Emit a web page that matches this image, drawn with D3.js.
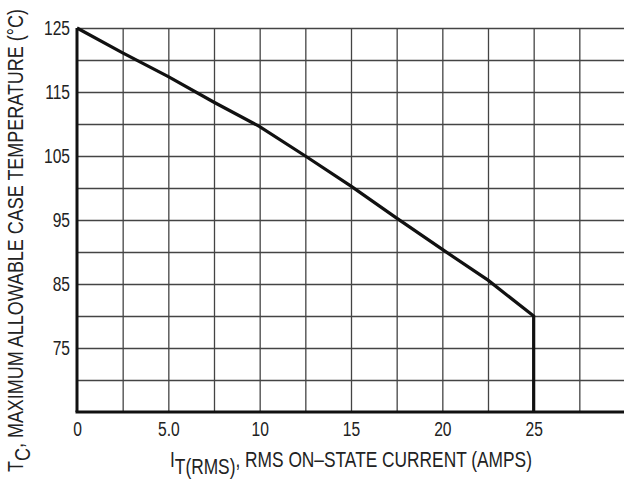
<!DOCTYPE html>
<html>
<head>
<meta charset="utf-8">
<script src="https://cdn.jsdelivr.net/npm/d3@7"></script>
<style>
  body { margin: 0; background: #fff; }
  svg text { font-family: "Liberation Sans", Arial, sans-serif; fill: #222; }
  .grid line { stroke: #444; stroke-width: 1.3; }
  .grid path { display: none; }
</style>
</head>
<body>
<div id="chart"></div>
<script>
// derating curve: case temperature vs rms current
let current = [0, 2.5, 5, 7.5, 10, 12.5, 15, 17.5, 20, 22.5, 25, 25];
let caseTemp = [125, 121.1, 117.4, 113.4, 109.6, 105.0, 100.3, 95.3, 90.4, 85.6, 80, 65];

let xTicks = [0, 5, 10, 15, 20, 25];
let xTickLabels = ["0", "5.0", "10", "15", "20", "25"];
let yTicks = [75, 85, 95, 105, 115, 125];

let margin = {top: 28, right: -1, bottom: 69, left: 77},
    width = 624 - margin.left - margin.right,
    height = 481 - margin.top - margin.bottom;

let root = d3.select("#chart").append("svg")
    .attr("width", 624)
    .attr("height", 481);

let svg = root.append("g")
    .attr("transform", "translate(" + margin.left + "," + margin.top + ")");

let x = d3.scaleLinear().domain([0, 30]).range([0, width]);
let y = d3.scaleLinear().domain([65, 125]).range([height, 0]);

// squeeze a text horizontally (the original uses a condensed face)
function condense(sel, k) {
    sel.each(function() {
        let w = this.getComputedTextLength();
        d3.select(this).attr("textLength", w * k).attr("lengthAdjust", "spacingAndGlyphs");
    });
}

// gridlines every 2.5 A and every 5 degrees
svg.append("g")
    .attr("class", "grid")
    .attr("transform", "translate(0," + height + ")")
    .call(d3.axisBottom(x)
        .tickValues(d3.range(2.5, 30.1, 2.5))
        .tickSize(-height)
        .tickFormat(""));

svg.append("g")
    .attr("class", "grid")
    .call(d3.axisLeft(y)
        .tickValues(d3.range(70, 125.1, 5))
        .tickSize(-width)
        .tickFormat(""));

// tick labels
let xAxis = svg.append("g")
    .attr("transform", "translate(0," + height + ")")
    .call(d3.axisBottom(x)
        .tickValues(xTicks)
        .tickSize(0)
        .tickPadding(10)
        .tickFormat(function(d, i) { return xTickLabels[i]; }));
xAxis.select(".domain").remove();
xAxis.attr("font-size", 20).attr("font-family", null);
xAxis.selectAll("text").attr("fill", "#222");
condense(xAxis.selectAll("text"), 0.78);

let yAxis = svg.append("g")
    .call(d3.axisLeft(y)
        .tickValues(yTicks)
        .tickSize(0)
        .tickPadding(7));
yAxis.select(".domain").remove();
yAxis.attr("font-size", 20).attr("font-family", null);
yAxis.selectAll("text").attr("fill", "#222");
condense(yAxis.selectAll("text"), 0.78);

// frame: left and bottom heavy
svg.append("line")
    .attr("x1", 0).attr("x2", 0)
    .attr("y1", 0).attr("y2", height)
    .attr("stroke", "#111").attr("stroke-width", 3);
svg.append("line")
    .attr("x1", -1.5).attr("x2", width)
    .attr("y1", height).attr("y2", height)
    .attr("stroke", "#111").attr("stroke-width", 3);

// curve
let line = d3.line()
    .x(function(d, i) { return x(current[i]); })
    .y(function(d) { return y(d); });

svg.append("path")
    .datum(caseTemp)
    .attr("fill", "none")
    .attr("stroke", "#111")
    .attr("stroke-width", 3.2)
    .attr("d", line);

// axis titles
let xg = root.append("g");
let xt = xg.append("text").attr("font-size", 22);
xt.append("tspan").text("I");
xt.append("tspan").attr("dy", 7).text("T(RMS)");
xt.append("tspan").attr("dy", -7).text(", RMS ON\u2013STATE CURRENT (AMPS)");
let xsx = 362 / xt.node().getComputedTextLength();
xg.attr("transform", "translate(170,467) scale(" + xsx + ",1)");

let yg = root.append("g");
let yt = yg.append("text").attr("font-size", 22);
yt.append("tspan").text("T");
yt.append("tspan").attr("dy", 7).text("C");
yt.append("tspan").attr("dy", -7).text(", MAXIMUM ALLOWABLE CASE TEMPERATURE (\u00B0C)");
let ysx = 463 / yt.node().getComputedTextLength();
yg.attr("transform", "translate(23,472) rotate(-90) scale(" + ysx + ",1)");
</script>
</body>
</html>
